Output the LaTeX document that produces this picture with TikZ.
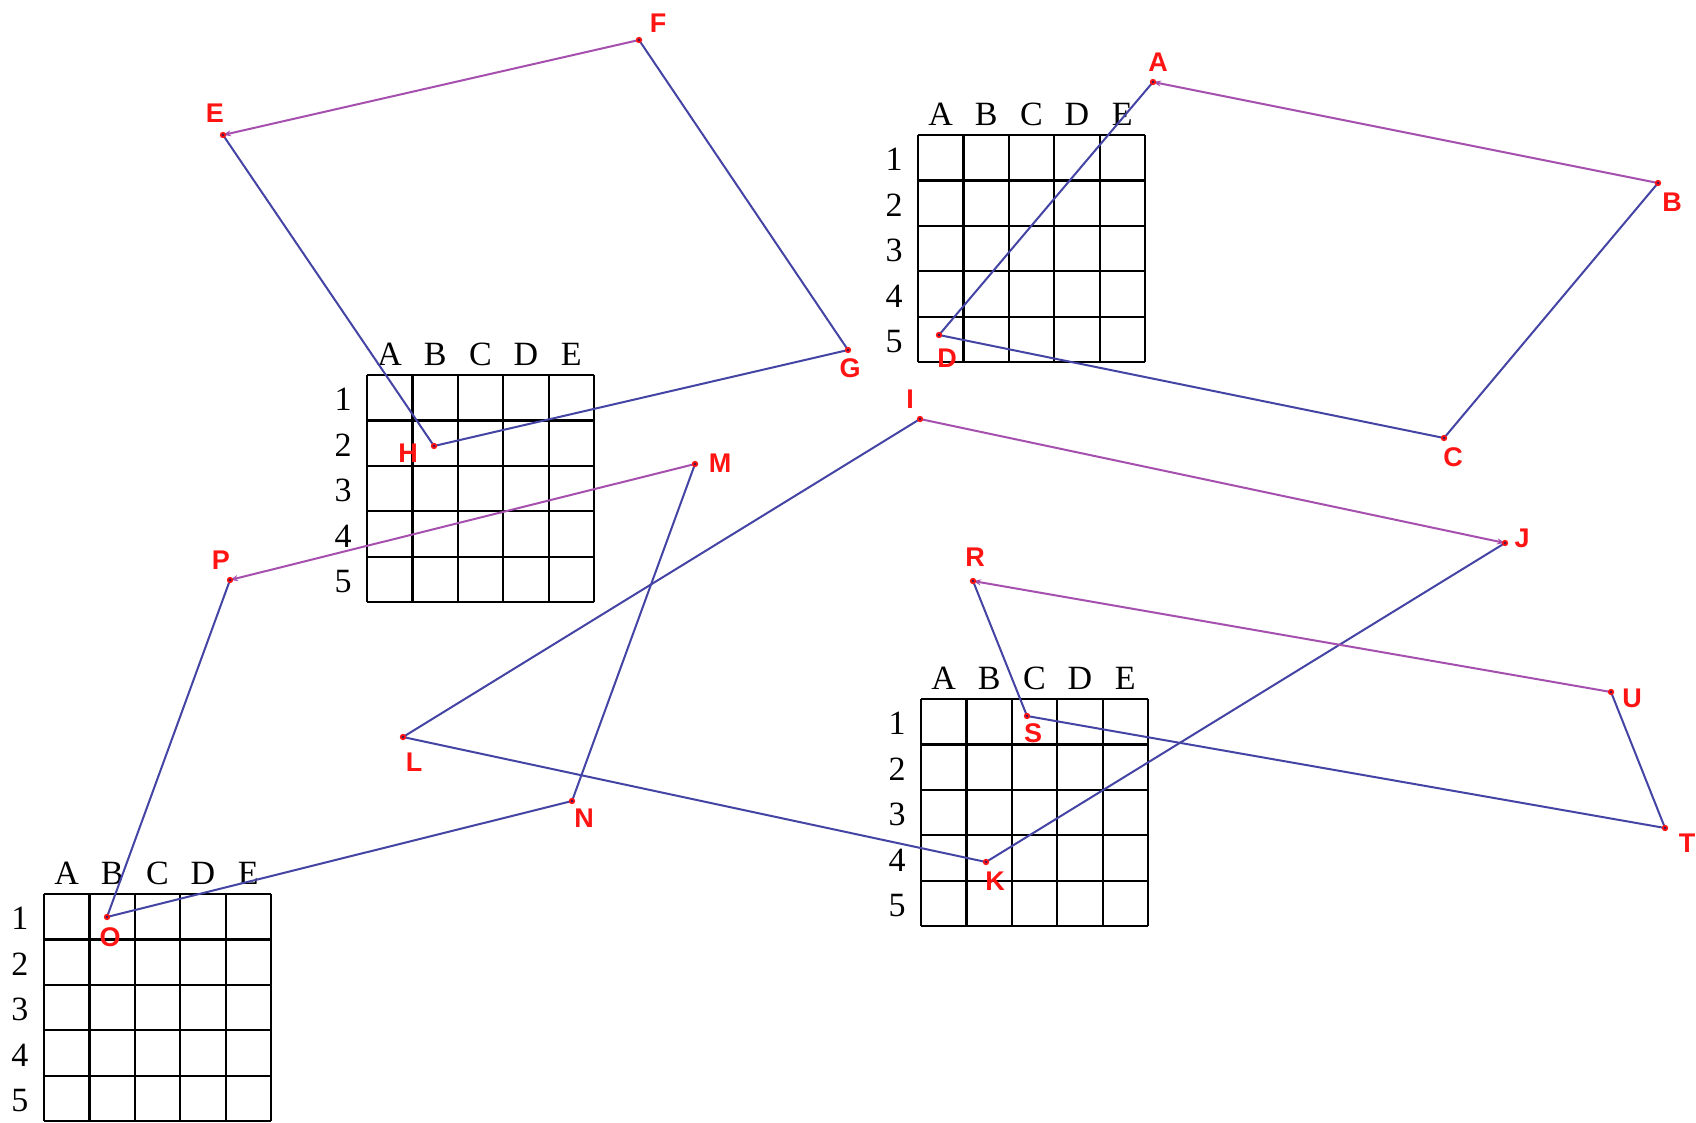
\documentclass[tikz,border=0pt]{standalone}
\usepackage{fontspec}
\setmainfont{Liberation Serif}
\newfontfamily\ptfont{Liberation Sans}
\usetikzlibrary{arrows.meta}
\definecolor{segblue}{RGB}{68,68,165}
\definecolor{segpurple}{RGB}{165,80,175}
\definecolor{ptred}{RGB}{255,20,20}
\definecolor{ptcore}{RGB}{60,20,90}
\tikzset{
  x=1pt, y=-1pt,
  side/.style={draw=segblue, line width=2pt},
  vect/.style={draw=segpurple, line width=2pt, -{Stealth[length=8pt,width=6pt]}},
  ptlabel/.style={text=ptred, font=\ptfont\bfseries\fontsize{27}{29}\selectfont, inner sep=0pt},
  gridhead/.style={font=\fontsize{34}{38}\selectfont, inner sep=0pt},
  chart/.pic={
    \foreach \i in {0,...,5} {
      \draw[line width=2.2pt] (\i*45.4,0) -- (\i*45.4,227);
      \draw[line width=2.2pt] (0,\i*45.4) -- (227,\i*45.4);
    }
    \foreach \c [count=\i] in {A,B,C,D,E}
      \node[gridhead, anchor=base] (-col\i) at (\i*45.4-22.7,-10) {\c};
    \foreach \r in {1,...,5}
      \node[gridhead] (-row\r) at (-24,\r*45.4-22.7+2) {\r};
  }
}
\begin{document}
\begin{tikzpicture}
\useasboundingbox (0,0) rectangle (1696,1122);
\fill[white] (0,0) rectangle (1696,1122);

% the four 5x5 charts
\pic (g1) at (918,135) {chart};
\pic (g2) at (367,375) {chart};
\pic (g3) at (44,894) {chart};
\pic (g4) at (921,699) {chart};

% vertices
\coordinate (A) at (1153,82);
\coordinate (B) at (1658,183);
\coordinate (C) at (1444,438);
\coordinate (D) at (939,335);
\coordinate (E) at (223,135);
\coordinate (F) at (639,40);
\coordinate (G) at (848,350);
\coordinate (H) at (434,446);
\coordinate (I) at (920,419);
\coordinate (J) at (1505,543);
\coordinate (K) at (986,862);
\coordinate (L) at (403,737);
\coordinate (M) at (695,464);
\coordinate (N) at (572,801);
\coordinate (O) at (107,917);
\coordinate (P) at (230,580);
\coordinate (R) at (973,581);
\coordinate (S) at (1027,716);
\coordinate (T) at (1665,828);
\coordinate (U) at (1611,692);

% quadrilateral sides
\draw[side] (B) -- (C) -- (D) -- (A);
\draw[side] (F) -- (G) -- (H) -- (E);
\draw[side] (J) -- (K) -- (L) -- (I);
\draw[side] (M) -- (N) -- (O) -- (P);
\draw[side] (U) -- (T) -- (S) -- (R);

% vectors
\draw[vect] (B) -- (A);
\draw[vect] (F) -- (E);
\draw[vect] (I) -- (J);
\draw[vect] (M) -- (P);
\draw[vect] (U) -- (R);

% vertex dots
\foreach \p in {A,B,C,D,E,F,G,H,I,J,K,L,M,N,O,P,R,S,T,U} {
  \fill[ptred] (\p) circle (3.2);
  \fill[ptcore] (\p) circle (1.4);
}

% vertex labels
\node[ptlabel] (lA) at (1158,62) {A};
\node[ptlabel] (lB) at (1672,202) {B};
\node[ptlabel] (lC) at (1453,457) {C};
\node[ptlabel] (lD) at (947,358) {D};
\node[ptlabel] (lE) at (215,113) {E};
\node[ptlabel] (lF) at (658,23) {F};
\node[ptlabel] (lG) at (850,368) {G};
\node[ptlabel] (lH) at (408,453) {H};
\node[ptlabel] (lI) at (910,399) {I};
\node[ptlabel] (lJ) at (1522,538) {J};
\node[ptlabel] (lK) at (995,881) {K};
\node[ptlabel] (lL) at (414,762) {L};
\node[ptlabel] (lM) at (720,463) {M};
\node[ptlabel] (lN) at (584,818) {N};
\node[ptlabel] (lO) at (110,937) {O};
\node[ptlabel] (lP) at (221,560) {P};
\node[ptlabel] (lR) at (975,557) {R};
\node[ptlabel] (lS) at (1033,733) {S};
\node[ptlabel] (lT) at (1687,843) {T};
\node[ptlabel] (lU) at (1632,698) {U};
\end{tikzpicture}
\end{document}
